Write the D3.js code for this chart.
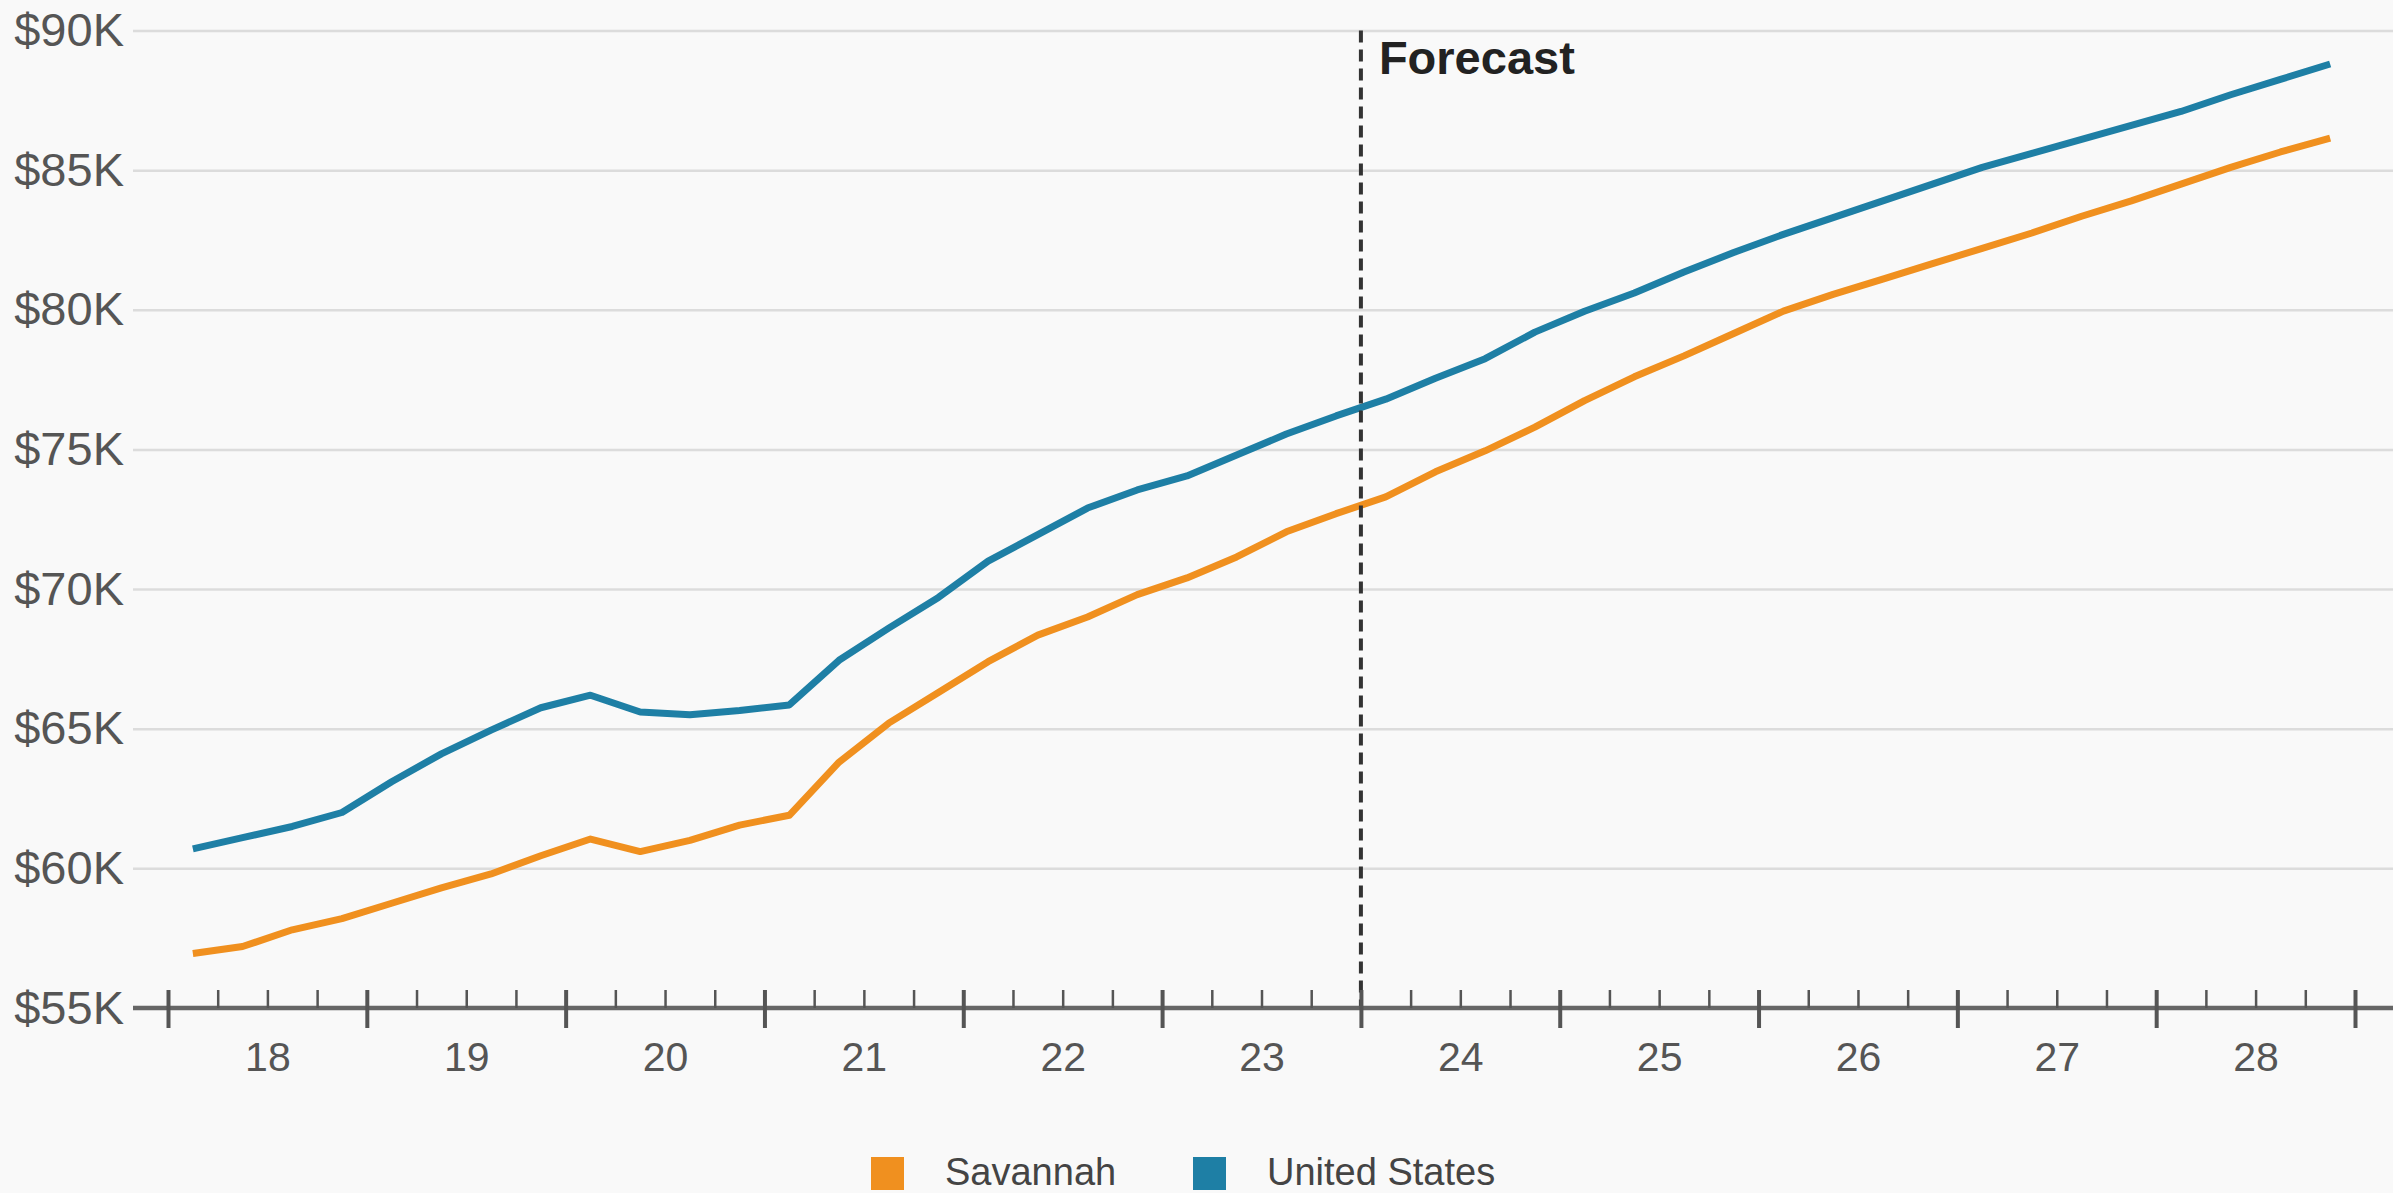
<!DOCTYPE html>
<html>
<head>
<meta charset="utf-8">
<script src="https://cdn.jsdelivr.net/npm/d3@7"></script>
<style>
  html, body { margin: 0; padding: 0; background: #f9f9f9; }
  svg { display: block; font-family: "Liberation Sans", Arial, sans-serif; }
</style>
</head>
<body>
<div id="chart"></div>
<script>
// Quarterly values, 2018 Q1 .. 2028 Q4 (thousands of dollars)
const years = ["18", "19", "20", "21", "22", "23", "24", "25", "26", "27", "28"];
const savannah = [
    56.95, 57.2, 57.8, 58.2, 58.75, 59.3, 59.8, 60.45,
    61.05, 60.6, 61.0, 61.55, 61.9, 63.8, 65.2, 66.3,
    67.4, 68.35, 69.0, 69.8, 70.4, 71.15, 72.05, 72.7,
    73.3, 74.2, 74.95, 75.8, 76.75, 77.6, 78.35, 79.15,
    79.95, 80.55, 81.1, 81.65, 82.2, 82.75, 83.35, 83.9,
    84.5, 85.1, 85.65, 86.15
];
const unitedStates = [
    60.7, 61.1, 61.5, 62.0, 63.1, 64.1, 64.95, 65.75,
    66.2, 65.6, 65.5, 65.65, 65.85, 67.45, 68.6, 69.7,
    71.0, 71.95, 72.9, 73.55, 74.05, 74.8, 75.55, 76.2,
    76.8, 77.55, 78.25, 79.2, 79.95, 80.6, 81.35, 82.05,
    82.7, 83.3, 83.9, 84.5, 85.1, 85.6, 86.1, 86.6,
    87.1, 87.7, 88.25, 88.8
];
const yTicks = [55, 60, 65, 70, 75, 80, 85, 90];
const forecastStart = 24; // first forecast quarter (2024 Q1)

const series = [
    { name: "Savannah", values: savannah, color: "#f0901f" },
    { name: "United States", values: unitedStates, color: "#1e7fa5" }
];

// Set up SVG dimensions
const totalWidth = 2393;
const totalHeight = 1193;
const plotLeft = 133;

const svg = d3.select("#chart")
    .append("svg")
    .attr("width", totalWidth)
    .attr("height", totalHeight);

svg.append("rect")
    .attr("width", totalWidth)
    .attr("height", totalHeight)
    .attr("fill", "#f9f9f9");

// Scales: x runs over quarter index, y in thousands
const x = d3.scaleLinear()
    .domain([0, years.length * 4])
    .range([168, 2355]);

const y = d3.scaleLinear()
    .domain([55, 90])
    .range([1008, 30.5]);

// Gridlines + y labels
const yAxis = svg.append("g")
    .attr("transform", `translate(${totalWidth},0)`)
    .call(d3.axisLeft(y)
        .tickValues(yTicks)
        .tickSize(totalWidth - plotLeft)
        .tickPadding(9)
        .tickFormat(d => `$${d}K`));
yAxis.select(".domain").remove();
yAxis.selectAll(".tick line")
    .attr("stroke", "#dcdcdc")
    .attr("stroke-width", 2.5);
yAxis.selectAll(".tick text")
    .attr("fill", "#555")
    .style("font-size", "47px")
    .style("font-family", "'Liberation Sans', Arial, sans-serif");

// Lines
const line = d3.line()
    .x((d, i) => x(i + 0.5))
    .y(d => y(d));

series.forEach(s => {
    svg.append("path")
        .datum(s.values)
        .attr("fill", "none")
        .attr("stroke", s.color)
        .attr("stroke-width", 7)
        .attr("stroke-linejoin", "round")
        .attr("d", line);
});

// Forecast divider
svg.append("line")
    .attr("x1", x(forecastStart))
    .attr("x2", x(forecastStart))
    .attr("y1", y(90))
    .attr("y2", y(55))
    .attr("stroke", "#333")
    .attr("stroke-width", 4)
    .attr("stroke-dasharray", "12,7");

svg.append("text")
    .attr("x", x(forecastStart) + 18)
    .attr("y", 74)
    .attr("fill", "#222")
    .style("font-size", "47px")
    .style("font-weight", "bold")
    .text("Forecast");

// X axis line
svg.append("line")
    .attr("x1", plotLeft)
    .attr("x2", totalWidth)
    .attr("y1", y(55))
    .attr("y2", y(55))
    .attr("stroke", "#666")
    .attr("stroke-width", 4.5);

// Minor (quarter) ticks
const minorTicks = d3.range(0, years.length * 4 + 1).filter(i => i % 4 !== 0);
const minorAxis = svg.append("g")
    .attr("transform", `translate(0,${y(55)})`)
    .call(d3.axisBottom(x).tickValues(minorTicks).tickSize(-18).tickFormat(""));
minorAxis.select(".domain").remove();
minorAxis.selectAll(".tick line").attr("stroke", "#555").attr("stroke-width", 2.5);

// Major (year) ticks, crossing the axis
const majorTicks = d3.range(0, years.length * 4 + 1, 4);
const majorAxis = svg.append("g")
    .attr("transform", `translate(0,${y(55)})`)
    .call(d3.axisBottom(x).tickValues(majorTicks).tickSize(20).tickFormat(""));
majorAxis.select(".domain").remove();
majorAxis.selectAll(".tick line")
    .attr("y1", -18)
    .attr("stroke", "#555")
    .attr("stroke-width", 4);

// Year labels centred in each year
const labelAxis = svg.append("g")
    .attr("transform", `translate(0,${y(55)})`)
    .call(d3.axisBottom(x)
        .tickValues(years.map((d, i) => i * 4 + 2))
        .tickSize(0)
        .tickPadding(34)
        .tickFormat((d, i) => years[i]));
labelAxis.select(".domain").remove();
labelAxis.selectAll(".tick text")
    .attr("fill", "#555")
    .style("font-size", "41px")
    .style("font-family", "'Liberation Sans', Arial, sans-serif");

// Legend
const legendPos = [871, 1193];
series.forEach((s, i) => {
    const g = svg.append("g")
        .attr("transform", `translate(${legendPos[i]},1157)`);
    g.append("rect")
        .attr("width", 33)
        .attr("height", 33)
        .attr("fill", s.color);
    g.append("text")
        .attr("x", 74)
        .attr("y", 28)
        .attr("fill", "#444")
        .style("font-size", "38px")
        .text(s.name);
});
</script>
</body>
</html>
